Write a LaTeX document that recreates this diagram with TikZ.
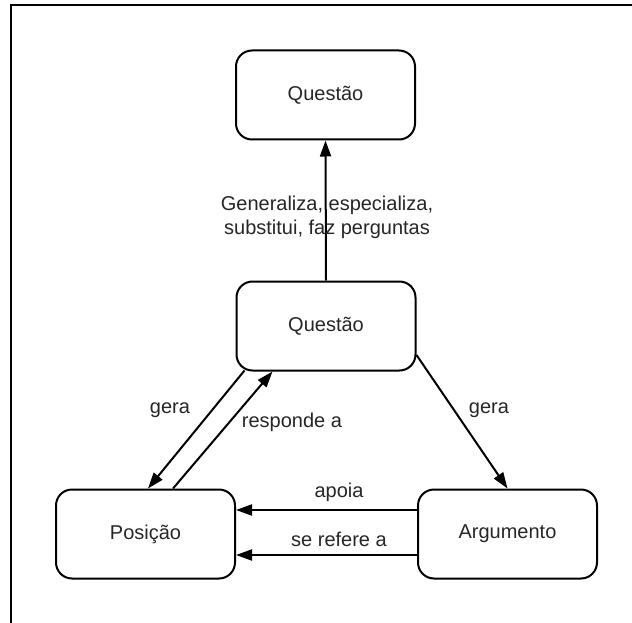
\documentclass[tikz,border=0pt]{standalone}
\usepackage{fontspec}
\setmainfont{Liberation Sans}
\usetikzlibrary{arrows.meta,calc}
\begin{document}
\begin{tikzpicture}[x=1pt,y=-1pt,
  every node/.style={text=black!85, font=\fontsize{20}{24}\selectfont},
  box/.style={draw=black, line width=2pt, rounded corners=16pt,
    minimum width=179pt, minimum height=89pt, inner sep=0pt},
  link/.style={draw=black, line width=2pt, -{Triangle[length=16pt,width=11pt]}},
  lbl/.style={inner sep=0pt, align=center}
]
\useasboundingbox (0,0) rectangle (632,623);
% frame edges
\draw[line width=2pt] (11,623) -- (11,5) -- (632,5);

% boxes
\node[box] (q1)  at (325.5,95)  {Questão};
\node[box] (q2)  at (326,326)   {Questão};
\node[box] (pos) at (145.5,534) {Posição};
\node[box] (arg) at (507.5,534) {Argumento};

% connectors
\draw[link] (q2.north) -- (q1.south);
\draw[link] ($(q2.south west)+(9,-1)$) -- ($(pos.north west)+(93,0)$);
\draw[link] ($(pos.north west)+(118,0)$) -- ($(q2.south west)+(37,0)$);
\draw[link] ($(q2.east)+(0,29)$) -- (arg.north);
\draw[link] ($(arg.west)+(0,-24)$) -- ($(pos.east)+(0,-24)$);
\draw[link] ($(arg.west)+(0,21)$) -- ($(pos.east)+(0,21)$);

% labels
\node[lbl] (lgen)  at (327,217)  {Generaliza, especializa,\\substitui, faz perguntas};
\node[lbl] (lgera1) at (170,410) {gera};
\node[lbl] (lresp) at (292,422)  {responde a};
\node[lbl] (lgera2) at (489,410) {gera};
\node[lbl] (lapoia) at (339,492) {apoia};
\node[lbl] (lref)  at (339,539)  {se refere a};
\end{tikzpicture}
\end{document}
